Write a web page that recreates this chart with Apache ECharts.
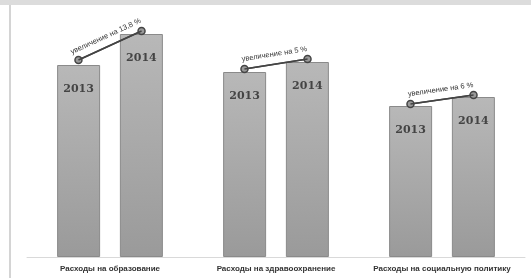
<!DOCTYPE html>
<html>
	<head>
		<meta charset="UTF-8">
		<title></title>
		<script src="https://cdn.jsdelivr.net/npm/echarts@6/dist/echarts.min.js"></script>
		<style>
			html, body { margin: 0; padding: 0; background: #fff; }
			#chart { width: 531px; height: 278px; }
		</style>
	</head>
	<body>
		<div id="chart"></div>
		<script>
			// 数据
			var categories = ['Расходы на образование', 'Расходы на здравоохранение', 'Расходы на социальную политику'];
			var years = ['2013', '2014'];
			var values2013 = [192, 185, 151];
			var values2014 = [223, 195, 160];
			// точки линии прироста (над вершинами столбиков)
			var growthFrom = [197, 188, 153];
			var growthTo = [226, 198, 162];
			var growthText = ['увеличение на 13,8 %', 'увеличение на 5 %', 'увеличение на 6 %'];

			var myChart = echarts.init(document.getElementById('chart'));

			// смещение центра столбика от центра категории (в долях категории)
			var shift = 0.19;

			var barStyle = {
				color: new echarts.graphic.LinearGradient(0, 0, 0, 1, [
					{offset: 0, color: '#b8b8b8'},
					{offset: 1, color: '#9a9a9a'}
				]),
				borderColor: '#8a8a8a',
				borderWidth: 1
			};
			var barLabel = {
				show: true,
				position: 'insideTop',
				distance: 19,
				formatter: '{a}',
				fontFamily: 'DejaVu Serif',
				fontWeight: 'bold',
				fontSize: 11,
				color: '#444'
			};

			var series = [{
				name: years[0],
				type: 'bar',
				barWidth: 43,
				barGap: '46%',
				data: values2013,
				itemStyle: barStyle,
				label: barLabel
			}, {
				name: years[1],
				type: 'bar',
				barWidth: 43,
				data: values2014,
				itemStyle: barStyle,
				label: barLabel
			}];

			for (var i = 0; i < categories.length; i++) {
				var p1 = [i + 0.5 - shift, growthFrom[i]];
				var p2 = [i + 0.5 + shift, growthTo[i]];
				series.push({
					type: 'line',
					xAxisIndex: 1,
					data: [p1, p2],
					symbol: 'circle',
					symbolSize: 7,
					z: 3,
					lineStyle: {color: '#444', width: 1.5},
					itemStyle: {color: '#999', borderColor: '#444', borderWidth: 1.5},
					silent: true,
					markLine: {
						silent: true,
						symbol: 'none',
						animation: false,
						lineStyle: {color: '#444', width: 1.5, type: 'solid'},
						label: {
							show: true,
							position: 'insideMiddleTop',
							distance: 6,
							formatter: growthText[i],
							fontFamily: 'Liberation Sans',
							fontSize: 7.5,
							color: '#333'
						},
						emphasis: {disabled: true},
						data: [[{coord: p1}, {coord: p2}]]
					}
				});
			}

			var option = {
				animation: false,
				backgroundColor: '#fff',
				graphic: [
					{type: 'rect', shape: {x: 0, y: 0, width: 531, height: 5}, style: {fill: '#dcdcdc'}},
					{type: 'line', shape: {x1: 10, y1: 5, x2: 10, y2: 278}, style: {stroke: '#d4d4d4', lineWidth: 2}}
				],
				grid: {left: 27, right: 6, top: 17, bottom: 21},
				xAxis: [{
					type: 'category',
					data: categories,
					axisLine: {lineStyle: {color: '#d9d9d9'}},
					axisTick: {show: false},
					axisLabel: {
						interval: 0,
						margin: 8,
						fontFamily: 'Liberation Sans',
						fontWeight: 'bold',
						fontSize: 8,
						color: '#333'
					}
				}, {
					type: 'value',
					min: 0,
					max: 3,
					show: false
				}],
				yAxis: {
					type: 'value',
					min: 0,
					max: 240,
					show: false
				},
				series: series
			};

			myChart.setOption(option);
		</script>
	</body>
</html>
